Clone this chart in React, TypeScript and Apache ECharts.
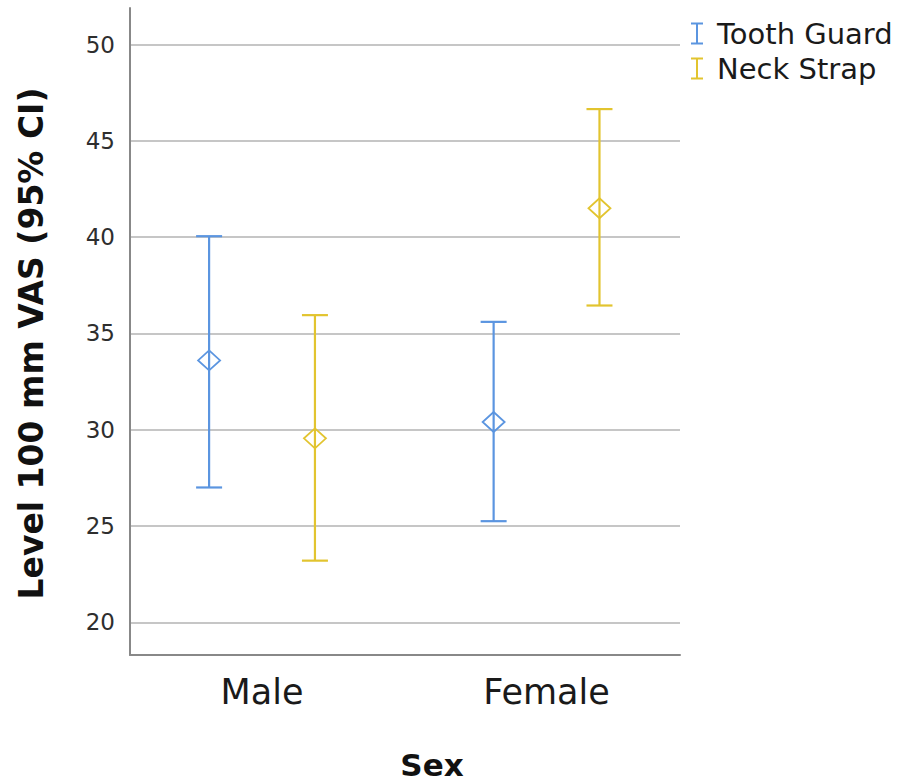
import React, { useEffect, useRef } from "react";
import * as echarts from "echarts";

// Groups on the x axis and the two devices compared within each group
const categories = ["Male", "Female"];
const devices = ["Tooth Guard", "Neck Strap"];

// Mean and 95% confidence limits (100 mm VAS)
const toothGuardMean = [33.6, 30.4];
const toothGuardLower = [27.0, 25.25];
const toothGuardUpper = [40.05, 35.6];

const neckStrapMean = [29.55, 41.5];
const neckStrapLower = [23.2, 36.45];
const neckStrapUpper = [35.95, 46.65];

const yTicks = [20, 25, 30, 35, 40, 45, 50];

const COLORS = ["#5b95e0", "#e2c42f"];
const FONT = "DejaVu Sans";
// Dodge of each device from the category centre, in category units
const DODGE = [-0.186, 0.186];
const I_BEAM = "path://M0,0H12V2H7V20H12V22H0V20H5V2H0Z";

function buildRows(lower: number[], mean: number[], upper: number[], dodge: number) {
  return categories.map((_, i) => [i + dodge, lower[i], mean[i], upper[i]]);
}

function errorBarSeries(name: string, color: string, rows: number[][]) {
  return {
    name,
    type: "custom",
    itemStyle: { color },
    data: rows,
    renderItem: (_params: any, api: any) => {
      const x = api.value(0);
      const pLo = api.coord([x, api.value(1)]);
      const pMid = api.coord([x, api.value(2)]);
      const pHi = api.coord([x, api.value(3)]);
      const cap = 13;
      const dw = 11;
      const dh = 10;
      const line = { stroke: color, lineWidth: 2.2, fill: null };
      const cx = pMid[0];
      const cy = pMid[1];
      return {
        type: "group",
        children: [
          { type: "line", shape: { x1: pHi[0], y1: pHi[1], x2: pLo[0], y2: pLo[1] }, style: line },
          { type: "line", shape: { x1: pHi[0] - cap, y1: pHi[1], x2: pHi[0] + cap, y2: pHi[1] }, style: line },
          { type: "line", shape: { x1: pLo[0] - cap, y1: pLo[1], x2: pLo[0] + cap, y2: pLo[1] }, style: line },
          {
            type: "polygon",
            shape: { points: [[cx, cy - dh], [cx + dw, cy], [cx, cy + dh], [cx - dw, cy]] },
            style: { stroke: color, lineWidth: 1.8, fill: null },
          },
        ],
      };
    },
  };
}

export default function App() {
  const ref = useRef<HTMLDivElement>(null);

  useEffect(() => {
    if (!ref.current) return;
    const chart = echarts.init(ref.current, null, { renderer: "svg" });
    chart.setOption({
      animation: false,
      backgroundColor: "#ffffff",
      textStyle: { fontFamily: FONT },
      grid: { left: 130, right: 226, top: 8, bottom: 126, outerBoundsMode: "none" },
      legend: {
        orient: "vertical",
        left: 686,
        top: 14,
        itemWidth: 12,
        itemHeight: 22,
        itemGap: 6,
        textStyle: {
          fontFamily: FONT,
          fontSize: 29,
          color: "#1a1a1a",
          lineHeight: 29,
          padding: [0, 0, 0, 9],
        },
        data: devices.map((d) => ({ name: d, icon: I_BEAM })),
      },
      xAxis: {
        type: "value",
        min: -0.464,
        max: 1.469,
        name: "Sex",
        nameLocation: "middle",
        nameGap: 94,
        nameTextStyle: {
          fontFamily: FONT,
          fontSize: 31,
          fontWeight: "bold",
          color: "#111",
          padding: [0, 0, 0, 54],
        },
        axisLine: { show: true, onZero: false, lineStyle: { color: "#888888", width: 2 } },
        axisTick: { show: false, customValues: [0, 1] },
        splitLine: { show: false },
        axisLabel: {
          customValues: [0, 1],
          formatter: (v: number) => categories[Math.round(v)] ?? "",
          fontFamily: FONT,
          fontSize: 35,
          color: "#1a1a1a",
          margin: 19,
        },
      },
      yAxis: {
        type: "value",
        min: 18.3,
        max: 51.9,
        name: "Level 100 mm VAS (95% CI)",
        nameLocation: "middle",
        nameRotate: 90,
        nameGap: 82,
        nameTextStyle: {
          fontFamily: FONT,
          fontSize: 33,
          fontWeight: "bold",
          color: "#111",
          padding: [0, 24, 0, 0],
        },
        axisLine: { show: true, onZero: false, lineStyle: { color: "#888888", width: 2 } },
        axisTick: { show: false, customValues: yTicks },
        axisLabel: {
          customValues: yTicks,
          fontFamily: FONT,
          fontSize: 23,
          color: "#2e2e2e",
          margin: 15,
        },
        splitLine: { show: true, lineStyle: { color: "#c6c6c6", width: 2 } },
      },
      series: [
        errorBarSeries(devices[0], COLORS[0], buildRows(toothGuardLower, toothGuardMean, toothGuardUpper, DODGE[0])),
        errorBarSeries(devices[1], COLORS[1], buildRows(neckStrapLower, neckStrapMean, neckStrapUpper, DODGE[1])),
      ],
    });
    return () => chart.dispose();
  }, []);

  return (
    <div
      ref={ref}
      style={{ position: "fixed", left: 0, top: 0, width: 906, height: 781, background: "#fff" }}
    />
  );
}
